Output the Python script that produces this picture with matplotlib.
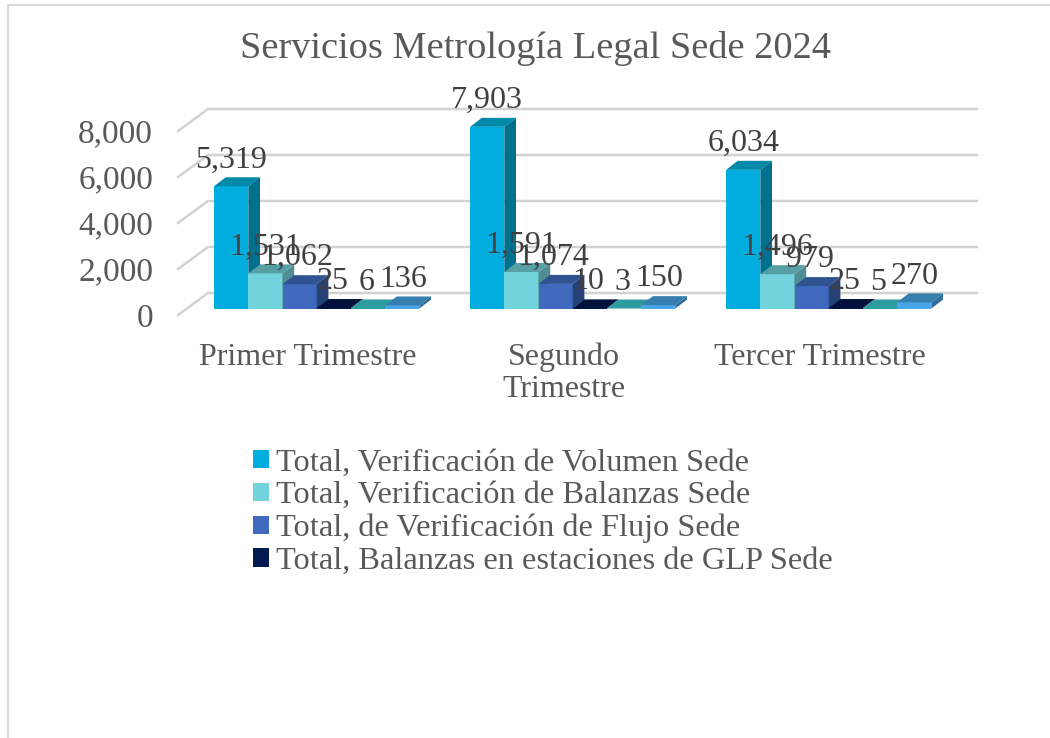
import matplotlib
matplotlib.use("Agg")
import matplotlib.pyplot as plt
from matplotlib.lines import Line2D
from matplotlib.patches import Polygon
from matplotlib.ticker import FuncFormatter

plt.rcParams['font.family'] = ['Liberation Serif', 'DejaVu Serif']

# Data
trimestres = ['Primer Trimestre', 'Segundo\nTrimestre', 'Tercer Trimestre']
volumen = [5319, 7903, 6034]
balanzas = [1531, 1591, 1496]
flujo = [1062, 1074, 979]
glp = [25, 10, 25]
serie_5 = [6, 3, 5]
serie_6 = [136, 150, 270]
y_ticks = [0, 2000, 4000, 6000, 8000]

series = [
    ('Total, Verificación de Volumen Sede', volumen),
    ('Total, Verificación de Balanzas Sede', balanzas),
    ('Total, de Verificación de Flujo Sede', flujo),
    ('Total, Balanzas en estaciones de GLP Sede', glp),
    (None, serie_5),
    (None, serie_6),
]
# front, top, side
colors = [
    ('#00ADDE', '#0089A8', '#00708F'),
    ('#72D3DC', '#559FA5', '#4F8D93'),
    ('#4169BE', '#2F5290', '#264078'),
    ('#001A50', '#00133C', '#001030'),
    ('#2C9CA6', '#2C9CA0', '#257F86'),
    ('#4AA5E8', '#367EAE', '#2F6E99'),
]
# labels do not sit exactly over the bars in the original
label_nudge = [0, 0, -1.5, -1, -1, 0.5]

W, H = 1050, 738
fig = plt.figure(figsize=(W / 100, H / 100), dpi=100)

# plot box in pixels
left, right, top, bottom = 178, 977, 109, 315
ax = fig.add_axes([left / W, 1 - bottom / H, (right - left) / W, (bottom - top) / H])

px_x = 1 / 256      # one group = 256 px
px_y = 1 / 0.023    # value units per px
ax.set_xlim((left - 308) * px_x, (right - 308) * px_x)
ax.set_ylim(0, (bottom - top) * px_y)

bar_w = 34.2 * px_x
shift_x, shift_y = 8.7 * px_x, 6.4 * px_y   # bars sit inside the floor
depth_x, depth_y = 11.7 * px_x, 9 * px_y    # bar depth
wall_x, wall_y = 30 * px_x, 22 * px_y       # back wall offset

# gridlines: diagonal on the side wall, then along the back wall
x0 = ax.get_xlim()[0]
x1 = ax.get_xlim()[1]
for v in y_ticks:
    ax.plot([x0, x0 + wall_x, x1], [v, v + wall_y, v + wall_y],
            color='#D2D2D2', lw=1.8, clip_on=False, zorder=1, solid_joinstyle='miter')

for s, (name, vals) in enumerate(series):
    front, top_c, side = colors[s]
    xs = [g + (s - 2.5) * bar_w + shift_x for g in range(3)]
    ax.bar(xs, vals, bar_w, bottom=shift_y, color=front, label=name, zorder=2 + s,
           linewidth=0)
    for x, v in zip(xs, vals):
        l, r = x - bar_w / 2, x + bar_w / 2
        b, t = shift_y, shift_y + v
        ax.add_patch(Polygon([(l, t), (r, t), (r + depth_x, t + depth_y), (l + depth_x, t + depth_y)],
                             color=top_c, lw=0, zorder=2 + s))
        ax.add_patch(Polygon([(r, b), (r + depth_x, b + depth_y), (r + depth_x, t + depth_y), (r, t)],
                             color=side, lw=0, zorder=2 + s))
        ax.annotate(f'{v:,}', (x, t), xytext=(label_nudge[s], 19), textcoords='offset points',
                    ha='center', va='center', fontsize=23, color='#404040', zorder=20,
                    annotation_clip=False)

for sp in ax.spines.values():
    sp.set_visible(False)
ax.patch.set_alpha(0)
ax.set_xticks(range(3))
ax.set_xticklabels(trimestres, fontsize=23, color='#595959', linespacing=1.14)
ax.set_yticks(y_ticks)
ax.yaxis.set_major_formatter(FuncFormatter(lambda v, p: f'{int(v):,}'))
ax.tick_params(axis='y', length=0, pad=18, labelsize=24, labelcolor='#595959')
ax.tick_params(axis='x', length=0, pad=20)

fig.text(536 / W, 1 - 48.5 / H, 'Servicios Metrología Legal Sede 2024', ha='center', va='center',
         fontsize=27.6, color='#595959')

handles, labels = ax.get_legend_handles_labels()
fig.legend(handles, labels, loc='upper left', bbox_to_anchor=(243 / W, 1 - 439 / H), frameon=False,
           fontsize=23.3, labelcolor='#595959', handlelength=0.49, handleheight=0.49,
           handletextpad=0.22, labelspacing=0.11, borderpad=0.3, borderaxespad=0)

# outer chart frame
fig.add_artist(Line2D([8 / W, 8 / W, 1], [0, 1 - 5 / H, 1 - 5 / H], color='#D9D9D9', lw=1.5))

fig.savefig('out.png', dpi=100)
